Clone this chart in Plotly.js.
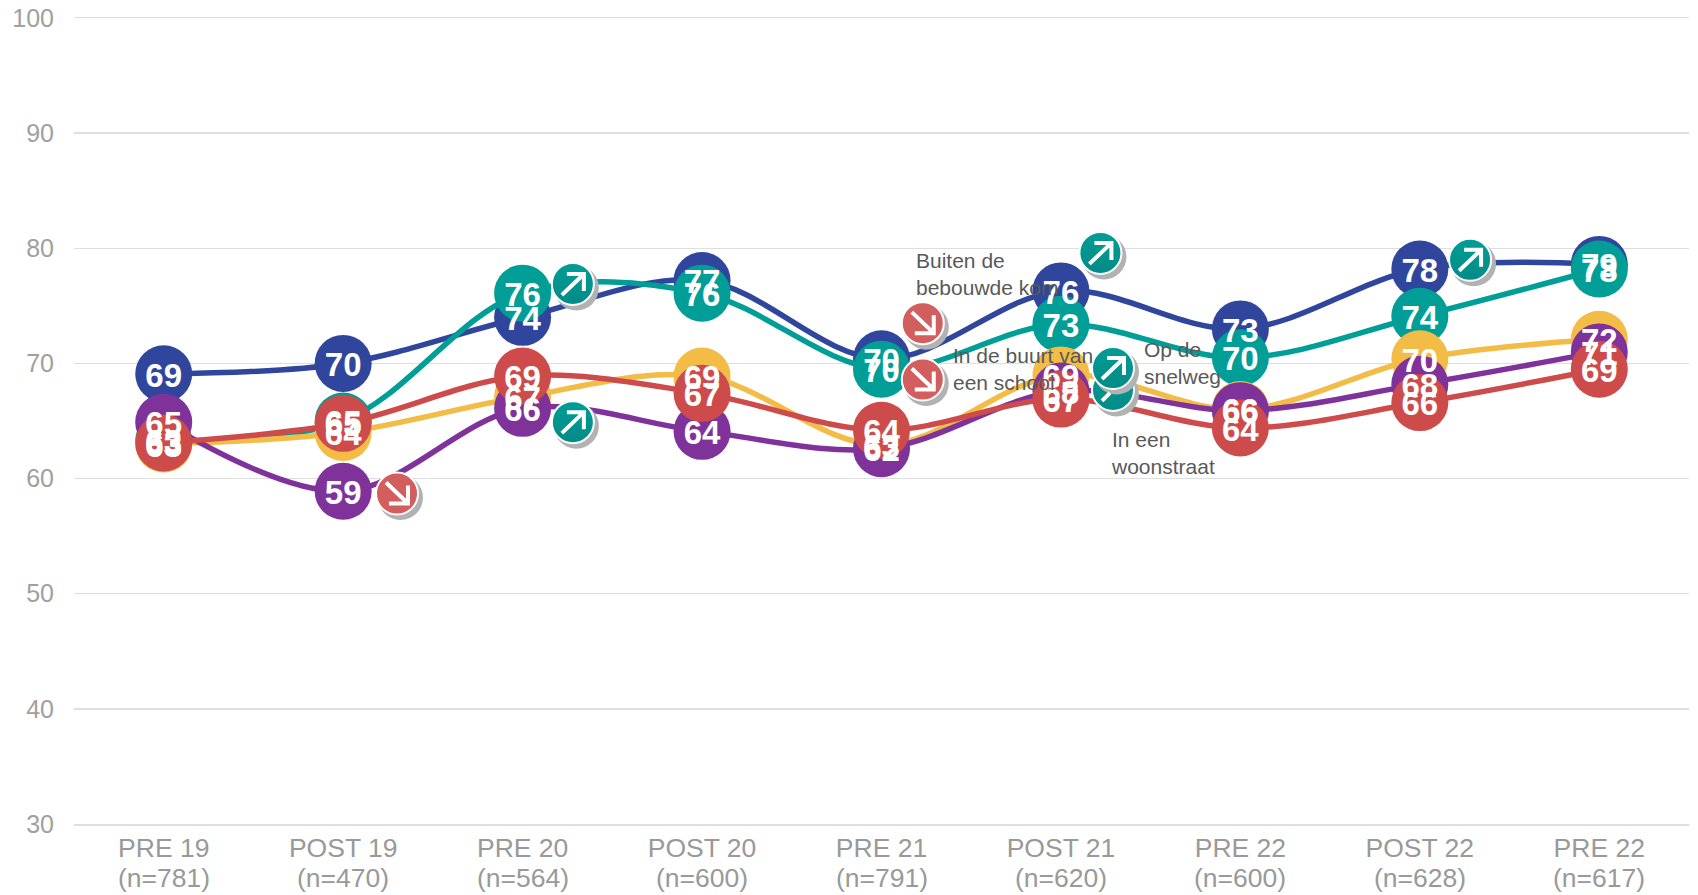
<!DOCTYPE html>
<html>
<head>
<meta charset="utf-8">
<script src="https://cdn.plot.ly/plotly-3.0.1.min.js"></script>
<style>html,body{margin:0;padding:0;background:#fff;overflow:hidden}#c{width:1698px;height:895px}</style>
</head>
<body>
<div id="c"></div>
<script>
const tickLabels = ['PRE 19','POST 19','PRE 20','POST 20','PRE 21','POST 21','PRE 22','POST 22','PRE 22'];
const sampleLabels = ['(n=781)','(n=470)','(n=564)','(n=600)','(n=791)','(n=620)','(n=600)','(n=628)','(n=617)'];
const positions = [0,1,2,3,4,5,6,7,8];

const blueValues   = [69.1,70.0,74.0,77.2,70.4,76.3,73.0,78.2,78.6];
const tealValues   = [63.3,65.0,76.1,76.1,69.5,73.4,70.5,74.1,78.2];
const yellowValues = [63.0,64.0,67.1,68.9,62.9,69.0,66.0,70.4,72.1];
const purpleValues = [64.9,58.9,66.1,64.1,62.6,67.6,65.9,68.2,71.0];
const redValues    = [63.1,64.8,68.9,67.4,64.2,66.9,64.4,66.6,69.5];

const blueLabels   = [69,70,74,77,70,76,73,78,79];
const tealLabels   = [63,65,76,76,70,73,70,74,78];
const yellowLabels = [63,64,67,69,63,69,66,70,72];
const purpleLabels = [65,59,66,64,62,68,66,68,71];
const redLabels    = [63,65,69,67,64,67,64,66,69];

const seriesList = [
  {v:blueValues,   l:blueLabels,   c:'#30469C', n:'Buiten de bebouwde kom'},
  {v:tealValues,   l:tealLabels,   c:'#009E96', n:'Op de snelweg'},
  {v:yellowValues, l:yellowLabels, c:'#F2BC46', n:'In de buurt van een school'},
  {v:purpleValues, l:purpleLabels, c:'#80329B', n:'In een woonstraat'},
  {v:redValues,    l:redLabels,    c:'#CD4B4B', n:'Rood'}
];

// trend badges: position on the chart's own scales (lower POST 21 badge is drawn first, under the upper one)
const badgeUpX = [2.28,2.28,5.22,5.29,5.29,7.28];
const badgeUpY = [76.9,64.9,79.6,67.7,69.6,79.0];
const badgeDownX = [1.30,4.23,4.23];
const badgeDownY = [58.7,73.5,68.6];

const noteX = [4.18,4.39,5.45,5.265];
const noteY = [80.15,71.85,72.35,64.6];
const noteText = ['Buiten de<br>bebouwde kom','In de buurt van<br>een school','Op de<br>snelweg','In een<br>woonstraat'];

const font = 'Liberation Sans, Arial, sans-serif';
const traces = [];

seriesList.forEach(s => traces.push({
  type:'scatter', mode:'lines+markers', x:positions, y:s.v, name:s.n, cliponaxis:false,
  line:{color:s.c,width:5.5,shape:'spline',smoothing:1},
  marker:{color:s.c,size:57,line:{width:0}}, hoverinfo:'skip'
}));

function badge(xs,ys,color,dark){
  xs.forEach((x,i)=>{
    traces.push({type:'scatter',mode:'markers',x:[x+3.5/179.5],y:[ys[i]-4/11.51],cliponaxis:false,
      marker:{color:'#B2B2B2',size:45,line:{width:0}},hoverinfo:'skip'});
    traces.push({type:'scatter',mode:'markers',x:[x],y:[ys[i]],cliponaxis:false,
      marker:{color:color,size:42,line:{color:'#FFFFFF',width:2},gradient:{type:'vertical',color:dark}},hoverinfo:'skip'});
  });
}
badge(badgeUpX,badgeUpY,'#009E96','#048A86');
badge(badgeDownX,badgeDownY,'#D25E5E','#D25E5E');

seriesList.forEach(s => traces.push({
  type:'scatter', mode:'text', x:positions, y:s.v.map(v=>v-4.5/11.51), text:s.l.map(String), cliponaxis:false,
  textposition:'middle center', textfont:{family:font,size:33,color:'#FFFFFF',weight:700}, hoverinfo:'skip'
}));

function arrow(x,y,path){
  return {type:'path',layer:'above',xsizemode:'pixel',ysizemode:'pixel',xanchor:x,yanchor:y,path:path,
    line:{color:'#FFFFFF',width:4},fillcolor:'rgba(0,0,0,0)'};
}
const upPath = 'M -11 -11 L 11 10 M -6 10 L 11 10 L 11 -7';
const tailPath = 'M -11 -11 L -3 -3';
const downPath = 'M -11 11 L 11 -10 M -8 -10 L 11 -10 L 11 8';
const shapes = badgeUpX.map((x,i)=>arrow(x,badgeUpY[i],i===3?tailPath:upPath))
  .concat(badgeDownX.map((x,i)=>arrow(x,badgeDownY[i],downPath)));

const annotations = noteText.map((t,i)=>({
  x:noteX[i],y:noteY[i],text:t,showarrow:false,xanchor:'left',yanchor:'top',align:'left',
  font:{family:font,size:21,color:'#595959'}
})).concat(sampleLabels.map((t,i)=>({
  x:positions[i],xref:'x',yref:'paper',y:-0.0676,text:t,showarrow:false,xanchor:'center',yanchor:'middle',
  font:{family:font,size:26.5,color:'#999999'}
})));

Plotly.newPlot('c',traces,{
  width:1698,height:895,showlegend:false,paper_bgcolor:'#fff',plot_bgcolor:'#fff',
  margin:{l:74,r:9,t:17.5,b:71,pad:0},
  font:{family:font},
  xaxis:{range:[-0.5,8.5],tickmode:'array',tickvals:positions,ticktext:tickLabels,showgrid:false,zeroline:false,
    showline:true,mirror:true,linecolor:'#DEDEDE',linewidth:1.5,ticks:'',
    tickfont:{family:font,size:26.5,color:'#999999'},tickangle:0,ticklabelstandoff:0},
  yaxis:{range:[30,100],tickmode:'array',tickvals:[30,40,50,60,70,80,90,100],showgrid:true,gridcolor:'#DEDEDE',gridwidth:1.5,zeroline:false,showline:false,ticks:'',
    tickfont:{family:font,size:25,color:'#A0A0A0'},ticklabelstandoff:19},
  shapes:shapes,annotations:annotations
},{displayModeBar:false,staticPlot:true});
</script>
</body>
</html>
